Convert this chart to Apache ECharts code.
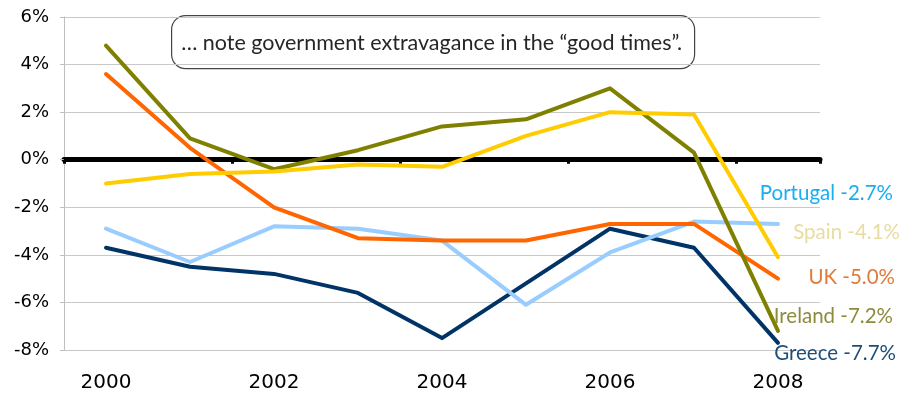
<!DOCTYPE html>
<html><head><meta charset="utf-8">
<script src="https://cdn.jsdelivr.net/npm/echarts@6/dist/echarts.min.js"></script>
<style>html,body{margin:0;padding:0;background:#fff}#c{width:904px;height:396px}</style>
</head><body><div id="c"></div>
<script>
const years = ['2000','2001','2002','2003','2004','2005','2006','2007','2008'];
const portugal = [-2.9,-4.3,-2.8,-2.9,-3.4,-6.1,-3.9,-2.6,-2.7];
const spain    = [-1.0,-0.6,-0.5,-0.2,-0.3,1.0,2.0,1.9,-4.1];
const uk       = [3.6,0.5,-2.0,-3.3,-3.4,-3.4,-2.7,-2.7,-5.0];
const ireland  = [4.8,0.9,-0.4,0.4,1.4,1.7,3.0,0.3,-7.2];
const greece   = [-3.7,-4.5,-4.8,-5.6,-7.5,-5.2,-2.9,-3.7,-7.7];
const yTicks = {min:-8, max:6, interval:2};
const note = '\u2026 note government extravagance in the \u201cgood times\u201d.';

const LF = 'Lato, "Open Sans", sans-serif';
function mk(name, data, color, labelColor, off){
  return {
    name, type:'line', data, symbol:'none', smooth:false,
    xAxisIndex:0,
    lineStyle:{color, width:4, cap:'round', join:'round'},
    itemStyle:{color},
    endLabel:{show:true, formatter:p=>name+' '+p.value.toFixed(1)+'%',
      color:labelColor, fontSize:20.5, fontFamily:LF, align:'right', offset:off},
    emphasis:{disabled:true}, animation:false
  };
}
const chart = echarts.init(document.getElementById('c'));
chart.setOption({
  animation:false,
  grid:{left:64, right:84, top:17, bottom:46},
  xAxis:[
    {type:'category', data:years, boundaryGap:true,
     axisLine:{onZero:true, lineStyle:{color:'#000', width:5, cap:'round'}},
     axisTick:{show:true, interval:1, length:4, lineStyle:{color:'#000', width:3}},
     axisLabel:{show:false}, splitLine:{show:false}},
    {type:'category', data:years, boundaryGap:true, position:'bottom',
     axisLine:{show:false, onZero:false}, axisTick:{show:false},
     axisLabel:{interval:1, margin:23, fontSize:20, color:'#000', fontFamily:'"DejaVu Sans", sans-serif'}}
  ],
  yAxis:{type:'value', min:yTicks.min, max:yTicks.max, interval:yTicks.interval,
    axisLine:{show:true, lineStyle:{color:'#bfbfbf', width:1}},
    axisTick:{show:true, length:4, lineStyle:{color:'#bfbfbf'}},
    splitLine:{lineStyle:{color:'#c8c8c8', width:1}},
    axisLabel:{formatter:v=>v+'%', fontSize:18, margin:15, color:'#000', fontFamily:'"DejaVu Sans", sans-serif'}},
  series:[
    mk('Greece', greece, '#003366', '#1f4e79', [110,11]),
    mk('Portugal', portugal, '#99ccff', '#1aaef0', [107,-31]),
    mk('UK', uk, '#ff6600', '#e07b39', [109,-1]),
    mk('Ireland', ireland, '#808000', '#8c8c3c', [107,-15]),
    mk('Spain', spain, '#ffcc00', '#e8dca0', [114,-25])
  ],
  graphic:[{type:'group', left:171, top:15, children:[
    {type:'rect', shape:{x:0,y:0,width:523,height:53,r:14}, style:{fill:'#fff', stroke:'#444', lineWidth:1.2}},
    {type:'text', x:260, y:27, style:{text:note, fontSize:21.5, fontFamily:LF, fill:'#262626', align:'center', verticalAlign:'middle'}}
  ]}]
});
</script></body></html>
